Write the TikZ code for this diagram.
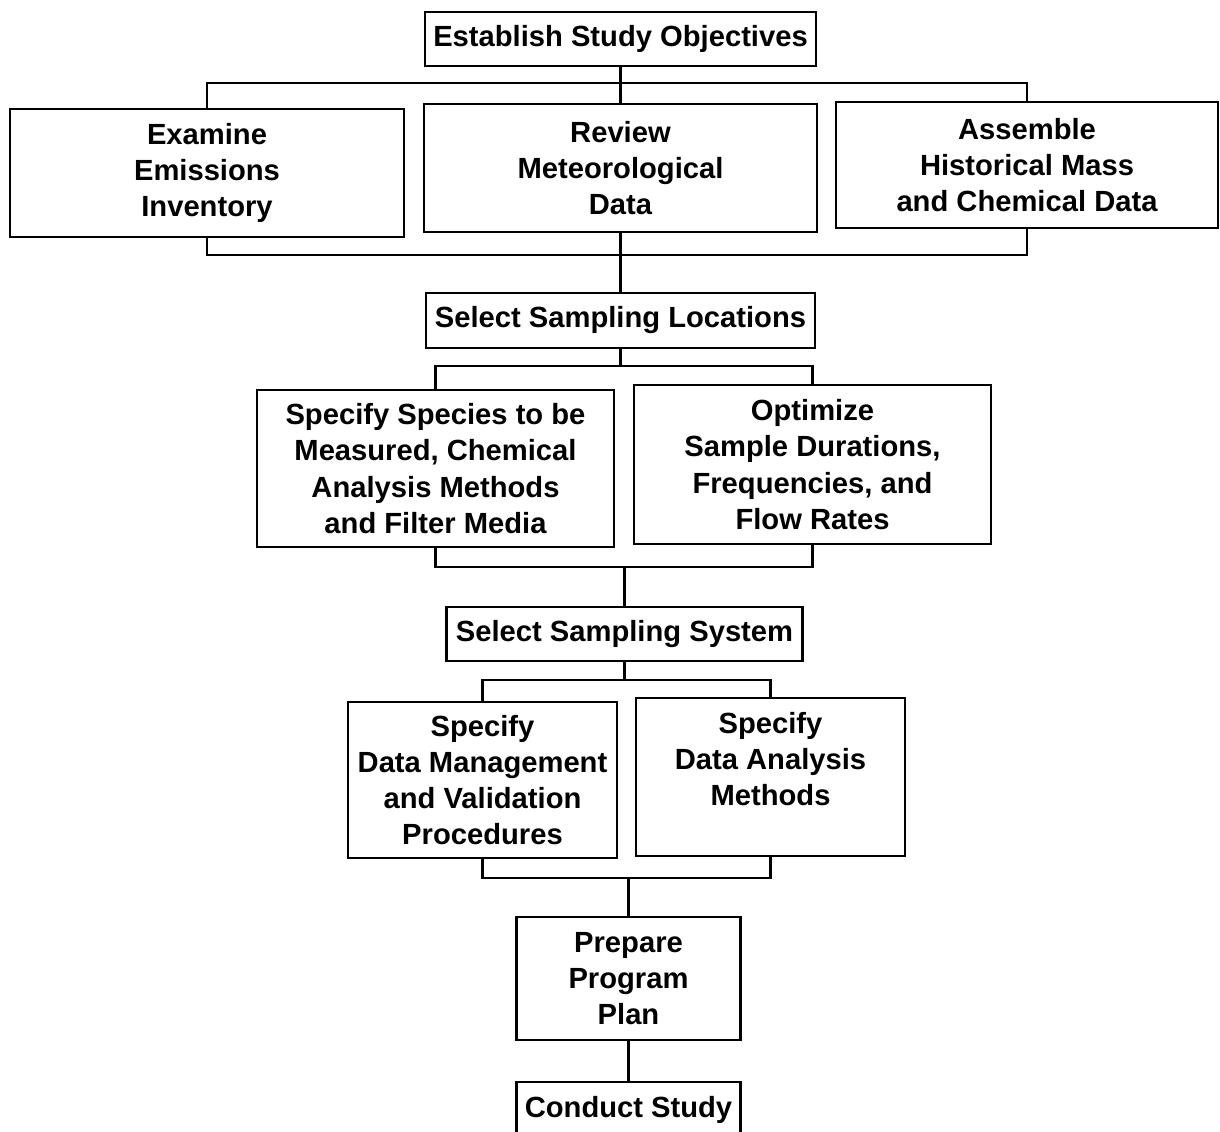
\documentclass[tikz,border=0pt]{standalone}
\usepackage{fontspec}
\setmainfont{Liberation Sans}
\usetikzlibrary{math}
\tikzset{
  box/.style={draw, line width=1.5pt, align=center, inner sep=0pt,
    font=\bfseries\fontsize{16.6}{20.6}\selectfont},
  link/.style={line width=1.5pt}
}

\begin{document}
\begin{tikzpicture}

\tikzmath{
\W = 24.4;
\H = 22.64;
\xm = 12.41;
}
\clip (0,0) rectangle (\W,-\H);

%Boxes
%%first level
\node[box, minimum width=7.82cm, minimum height=1.08cm] (obj) at (\xm,-0.78) {Establish Study Objectives};

\node[box, minimum width=7.88cm, minimum height=2.56cm] (emis) at (4.14,-3.46) {Examine\\Emissions\\Inventory};
\node[box, minimum width=7.86cm, minimum height=2.56cm] (rev) at (\xm,-3.36) {Review\\Meteorological\\Data};
\node[box, minimum width=7.64cm, minimum height=2.52cm] (hist) at (20.54,-3.30) {Assemble\\Historical Mass\\and Chemical Data};

%%locations
\node[box, minimum width=7.78cm, minimum height=1.10cm] (loc) at (\xm,-6.41) {Select Sampling Locations};

\node[box, minimum width=7.14cm, minimum height=3.14cm] (spec) at (8.71,-9.37) {Specify Species to be\\Measured, Chemical\\Analysis Methods\\and Filter Media};
\node[box, minimum width=7.14cm, minimum height=3.18cm] (opt) at (16.25,-9.29) {Optimize\\Sample Durations,\\Frequencies, and\\Flow Rates};

%%system
\node[box, minimum width=7.12cm, minimum height=1.08cm] (sys) at (12.49,-12.68) {Select Sampling System};

\node[box, minimum width=5.38cm, minimum height=3.12cm] (mgmt) at (9.65,-15.60) {Specify\\Data Management\\and Validation\\Procedures};
\node[box, minimum width=5.38cm, minimum height=3.16cm] (anal) at (15.41,-15.54) {Specify\\Data Analysis\\Methods\\\mbox{}};

%%plan
\node[box, minimum width=4.48cm, minimum height=2.46cm] (plan) at (12.57,-19.57) {Prepare\\Program\\Plan};
\node[box, minimum width=4.48cm, minimum height=1.12cm] (cond) at (12.57,-22.20) {Conduct Study};

%Connectors
\coordinate (t1) at (\xm,-1.66);
\coordinate (b1) at (\xm,-5.10);
\coordinate (t2) at (\xm,-7.32);
\coordinate (b2) at (12.49,-11.34);
\coordinate (t3) at (12.49,-13.60);
\coordinate (b3) at (12.57,-17.56);

\draw[link] (obj.south) -- (rev.north);
\draw[link] (emis.north) |- (t1) -| (hist.north);
\draw[link] (emis.south) |- (b1) -| (hist.south);
\draw[link] (rev.south) -- (loc.north);

\draw[link] (loc.south) -- (t2);
\draw[link] (spec.north) |- (t2) -| (opt.north);
\draw[link] (spec.south) |- (b2) -| (opt.south);
\draw[link] (b2) -- (sys.north);

\draw[link] (sys.south) -- (t3);
\draw[link] (mgmt.north) |- (t3) -| (anal.north);
\draw[link] (mgmt.south) |- (b3) -| (anal.south);
\draw[link] (b3) -- (plan.north);

\draw[link] (plan.south) -- (cond.north);

\end{tikzpicture}
\end{document}
